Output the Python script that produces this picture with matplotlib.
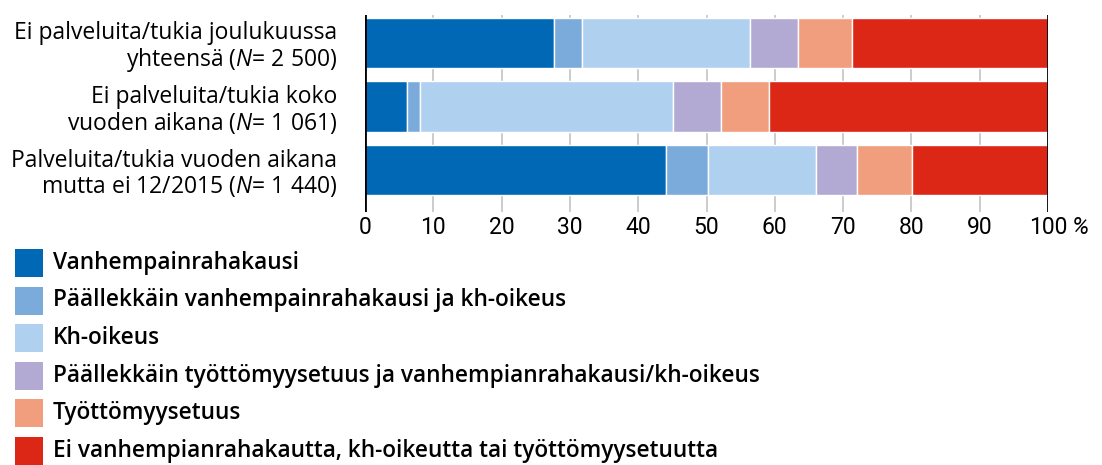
import matplotlib
matplotlib.use("Agg")
import matplotlib.pyplot as plt
from matplotlib.patches import Rectangle
import numpy as np

plt.rcParams["mathtext.fontset"] = "custom"
plt.rcParams["mathtext.rm"] = "Open Sans"
plt.rcParams["mathtext.it"] = "Open Sans:italic"

# rivit (ylhaalta alas)
rivit = ["Ei palveluita/tukia joulukuussa\nyhteensä ($\\it{N}$= $\\it{2\\ 500}$)",
         "Ei palveluita/tukia koko\nvuoden aikana ($\\it{N}$= $\\it{1\\ 061}$)",
         "Palveluita/tukia vuoden aikana\nmutta ei 12/2015 ($\\it{N}$= $\\it{1\\ 440}$)"]

luokat = ["Vanhempainrahakausi",
          "Päällekkäin vanhempainrahakausi ja kh-oikeus",
          "Kh-oikeus",
          "Päällekkäin työttömyysetuus ja vanhempianrahakausi/kh-oikeus",
          "Työttömyysetuus",
          "Ei vanhempianrahakautta, kh-oikeutta tai työttömyysetuutta"]

vanhempainraha = [27.7, 6.1, 44.1]
paallekkain_kh = [4.0, 2.0, 6.1]
kh_oikeus = [24.7, 37.0, 15.9]
paallekkain_tyott = [7.0, 7.0, 6.0]
tyottomyys = [7.9, 7.1, 8.0]
ei_mitaan = [28.7, 40.8, 19.9]

varit = ["#0068b4", "#7aabdb", "#afd0ee", "#b3aad4", "#f09e7e", "#dc2616"]

sarjat = [vanhempainraha, paallekkain_kh, kh_oikeus, paallekkain_tyott, tyottomyys, ei_mitaan]

W, H = 1102, 465
fig = plt.figure(figsize=(W / 100, H / 100), dpi=100)
ax = fig.add_axes([365 / W, 1 - 212 / H, (1048 - 365) / W, (212 - 15) / H])

y = np.arange(len(rivit))
vasen = np.zeros(len(rivit))
for arvot, vari in zip(sarjat, varit):
    ax.barh(y, arvot, left=vasen, height=0.79, color=vari, edgecolor="white",
            linewidth=1.0, zorder=2)
    vasen += np.array(arvot)

ax.set_ylim(2.66, -0.44)
ax.set_xlim(0, 100)
for x in range(10, 100, 10):
    ax.axvline(x, color="#c4c4c4", lw=1.2, zorder=0)
ax.axvline(0, color="black", lw=2, zorder=3)
ax.axvline(100, color="black", lw=2, zorder=3)
for s in ax.spines.values():
    s.set_visible(False)

ax.set_xticks(range(0, 101, 10))
ax.set_xticklabels([str(v) for v in range(0, 101, 10)],
                   family=["Roboto", "DejaVu Sans"], fontsize=16.5)
ax.tick_params(axis="x", length=0, pad=3)
ax.annotate("%", xy=(100, 0), xycoords=("data", "axes fraction"),
            xytext=(17, -3), textcoords="offset points", va="top", ha="left",
            fontsize=17.5, style="italic", family=["Roboto", "DejaVu Sans"])

ax.set_yticks(y)
ax.set_yticklabels(rivit, fontsize=16.5, family=["Open Sans", "DejaVu Sans"],
                   linespacing=1.05)
ax.tick_params(axis="y", length=0, pad=20)

# selite
for i, (nimi, vari) in enumerate(zip(luokat, varit)):
    yt = 249 + i * 37.5
    fig.add_artist(Rectangle((15 / W, 1 - (yt + 28) / H), 28 / W, 28 / H,
                             transform=fig.transFigure, facecolor=vari,
                             edgecolor="none"))
    fig.text(53 / W, 1 - (yt + 14) / H, nimi, va="center", ha="left",
             fontsize=16.3, fontweight="semibold", family=["Open Sans", "DejaVu Sans"])

fig.savefig("out.png", dpi=100)
